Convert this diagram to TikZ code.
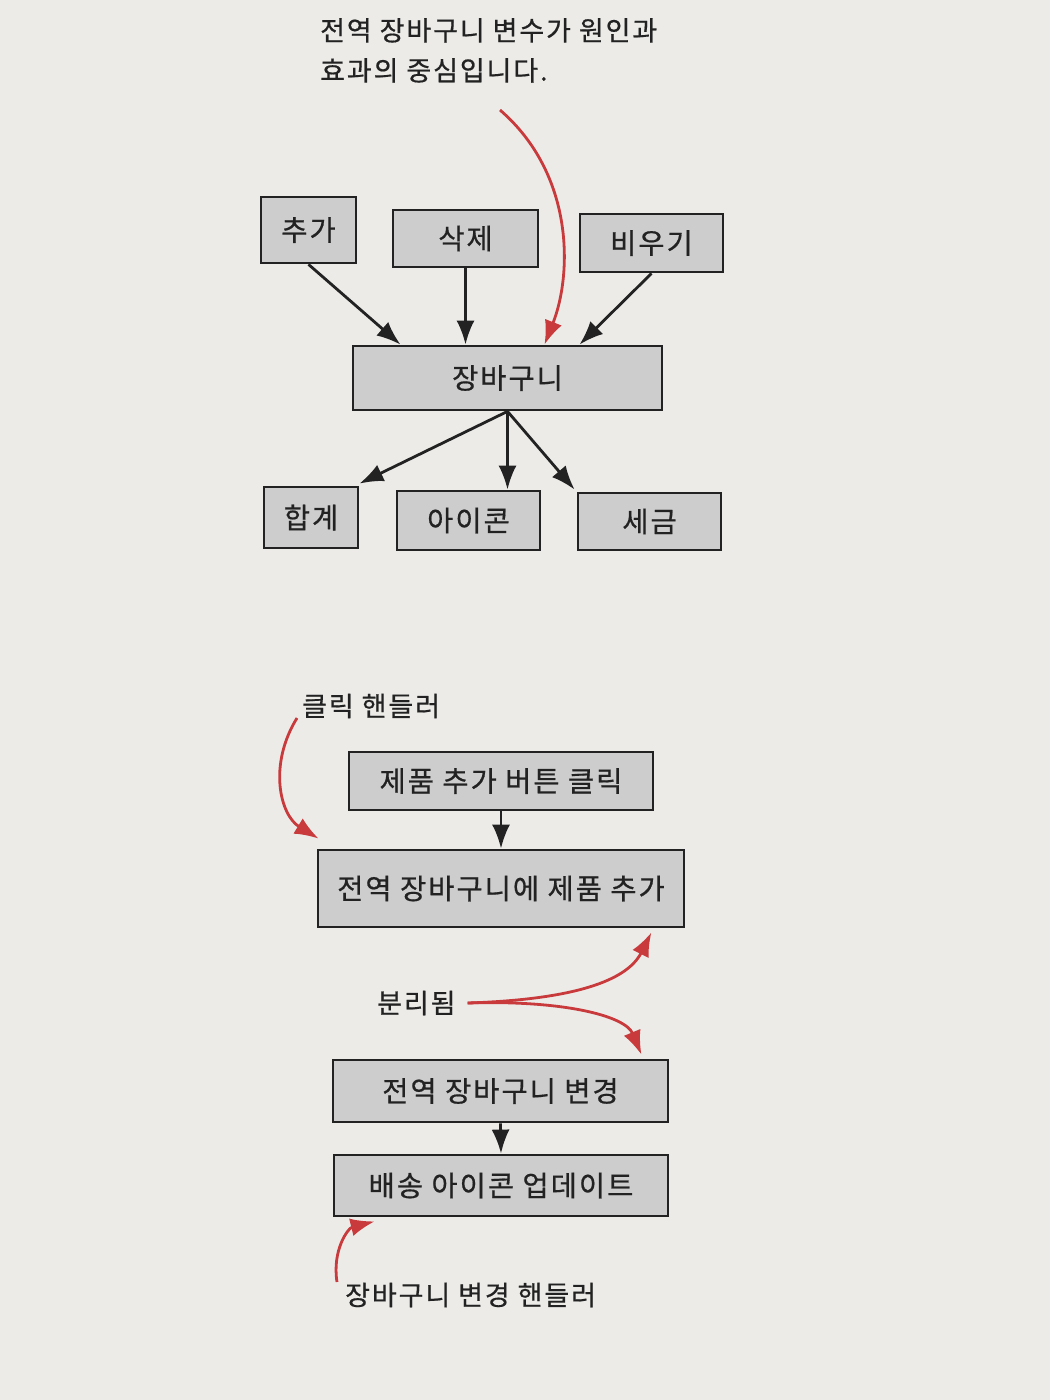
\documentclass[tikz,border=0pt]{standalone}
\usepackage{fontspec}
\setmainfont{Noto Sans CJK KR}[LetterSpace=7, FakeBold=0.6]
\usetikzlibrary{arrows.meta}
\definecolor{paper}{HTML}{ECEBE8}
\definecolor{boxfill}{HTML}{CDCDCD}
\definecolor{ink}{HTML}{222222}
\definecolor{redink}{HTML}{C83A3C}
\tikzset{
  box/.style={draw=ink, line width=2.8pt, fill=boxfill, inner sep=0pt, text=ink,
    font=\fontsize{28.5}{32}\selectfont},
  note/.style={text=ink, inner sep=0pt, font=\fontsize{27}{40}\selectfont, align=left},
  arr/.style={draw=ink, line width=2.8pt, -{Latex[length=24pt,width=18pt]}},
  redarr/.style={draw=redink, line width=2.8pt, -{Latex[length=24pt,width=18pt]}}
}
\begin{document}
\begin{tikzpicture}[x=1pt,y=-1pt]
\fill[paper] (0,0) rectangle (1050,1400);
\useasboundingbox (0,0) rectangle (1050,1400);

% upper diagram
\node[note, anchor=north west] (n1) at (320,18) {전역 장바구니 변수가 원인과\\효과의 중심입니다.};
\node[box, minimum width=95pt, minimum height=66pt] (add) at (308.5,230) {추가};
\node[box, minimum width=145pt, minimum height=57pt] (del) at (465.5,238.5) {삭제};
\node[box, minimum width=143pt, minimum height=58pt] (emp) at (651.5,243) {비우기};
\node[box, minimum width=309pt, minimum height=64pt] (cart) at (507.5,378) {장바구니};
\node[box, minimum width=94pt, minimum height=61pt] (sum) at (311,517.5) {합계};
\node[box, minimum width=143pt, minimum height=59pt] (icon) at (468.5,520.5) {아이콘};
\node[box, minimum width=143pt, minimum height=57pt] (tax) at (649.5,521.5) {세금};

\draw[arr] (add.south) -- ([xshift=-107pt]cart.north);
\draw[arr] (del.south) -- (del.south |- cart.north);
\draw[arr] (emp.south) -- ([xshift=72pt]cart.north);
\draw[arr] (cart.south) -- ([yshift=2pt]sum.north east);
\draw[arr] (cart.south) -- (cart.south |- icon.north);
\draw[arr] (cart.south) -- ([xshift=-2pt,yshift=2pt]tax.north west);

\coordinate (r1s) at (500,110);
\draw[redarr] (r1s) .. controls (575,175) and (572,275) .. ([xshift=37pt]cart.north);

% lower diagram
\node[note, anchor=west] (click) at (302,706) {클릭 핸들러};
\node[box, minimum width=304pt, minimum height=58pt] (b1) at (501,781) {제품 추가 버튼 클릭};
\node[box, minimum width=366pt, minimum height=77pt] (b2) at (501,888.5) {전역 장바구니에 제품 추가};
\node[note, anchor=west] (split) at (377,1003) {분리됨};
\node[box, minimum width=335pt, minimum height=62pt] (b3) at (500.5,1091) {전역 장바구니 변경};
\node[box, minimum width=334pt, minimum height=61pt] (b4) at (501,1185.5) {배송 아이콘 업데이트};
\node[note, anchor=west] (hand) at (345,1295) {장바구니 변경 핸들러};

\draw[arr] (b1.south) -- (b2.north);
\draw[arr] (b3.south) -- (b4.north);

\coordinate (r2s) at (297,718);
\draw[redarr] (r2s) .. controls (268,765) and (280,815) .. ([xshift=2pt,yshift=10pt]b2.north west);
\draw[redarr] ([xshift=12pt]split.east) .. controls (560,1000) and (625,985) .. ([xshift=-34pt,yshift=-4pt]b2.south east);
\draw[redarr] ([xshift=12pt]split.east) .. controls (560,1000) and (625,1015) .. ([xshift=-28pt,yshift=4pt]b3.north east);
\coordinate (r4s) at (337,1282);
\draw[redarr] (r4s) .. controls (332,1250) and (348,1228) .. ([xshift=42pt,yshift=-4pt]b4.south west);
\end{tikzpicture}
\end{document}
